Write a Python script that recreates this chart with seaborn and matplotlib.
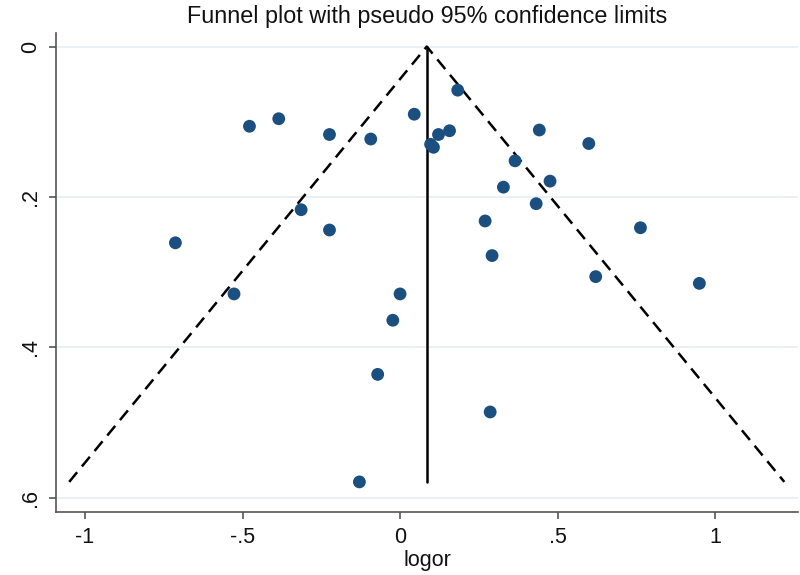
"""Funnel plot with pseudo 95% confidence limits."""

import pandas as pd
import seaborn as sns
import matplotlib
matplotlib.use('Agg')
import matplotlib.pyplot as plt

# study estimates (log odds ratio) and their standard errors
logor = [-0.478, -0.385, -0.224, -0.093, 0.045, -0.314, -0.224, -0.713,
         -0.527, 0.000, 0.183, 0.122, 0.157, 0.097, 0.106, 0.442, 0.599,
         0.365, 0.476, 0.328, 0.432, 0.270, 0.763, 0.292, 0.621, 0.950,
         -0.023, -0.071, -0.129, 0.286]
se = [0.106, 0.096, 0.117, 0.123, 0.090, 0.217, 0.244, 0.261,
      0.329, 0.329, 0.058, 0.117, 0.112, 0.130, 0.134, 0.111, 0.129,
      0.152, 0.179, 0.187, 0.209, 0.232, 0.241, 0.278, 0.306, 0.315,
      0.364, 0.436, 0.579, 0.486]
pooled = 0.0847

xticks = [-1, -0.5, 0, 0.5, 1]
xtick_labels = ['-1', '-.5', '0', '.5', '1']
yticks = [0, 0.2, 0.4, 0.6]
ytick_labels = ['0', '.2', '.4', '.6']

df = pd.DataFrame({'logor': logor, 'se': se})

sns.set_style('white')
plt.rcParams['font.family'] = ['Liberation Sans', 'DejaVu Sans']
plt.rcParams['text.color'] = '#111111'
plt.rcParams['xtick.color'] = '#555555'
plt.rcParams['ytick.color'] = '#555555'
plt.rcParams['xtick.labelcolor'] = '#111111'
plt.rcParams['ytick.labelcolor'] = '#111111'
plt.rcParams['axes.labelcolor'] = '#111111'

fig = plt.figure(figsize=(8, 5.75), dpi=100)
ax = fig.add_axes([0.07, 0.1096, 0.9275, 0.833])

for t in yticks:
    ax.axhline(t, color='#e6eff5', linewidth=1.2, zorder=0)

# pseudo 95% limits
se_max = max(se)
ax.plot([pooled - 1.96 * se_max, pooled, pooled + 1.96 * se_max],
        [se_max, 0, se_max], color='black', linestyle=(0, (5, 3)),
        linewidth=1.8, zorder=2)
ax.plot([pooled, pooled], [0, se_max], color='black', linewidth=1.8,
        zorder=2)

sns.scatterplot(data=df, x='logor', y='se', color='#1a4f7f', s=85,
                edgecolor='none', ax=ax, zorder=3)

ax.set_xlim(-1.092, 1.263)
ax.set_ylim(0.619, -0.018)
ax.set_xticks(xticks)
ax.set_xticklabels(xtick_labels, fontsize=15.5)
ax.set_yticks(yticks)
ax.set_yticklabels(ytick_labels, fontsize=15.5, rotation=90, va='center')
ax.tick_params(axis='both', direction='out', length=5, width=1.2,
               bottom=True, left=True, pad=6)
ax.set_xlabel('logor', fontsize=15.5, labelpad=1)
ax.set_ylabel('')
ax.set_title('Funnel plot with pseudo 95% confidence limits', fontsize=16.8,
             pad=7)

for side in ['top', 'right']:
    ax.spines[side].set_visible(False)
for side in ['left', 'bottom']:
    ax.spines[side].set_color('#555555')
    ax.spines[side].set_linewidth(1.2)

fig.savefig('out.png', dpi=100)
